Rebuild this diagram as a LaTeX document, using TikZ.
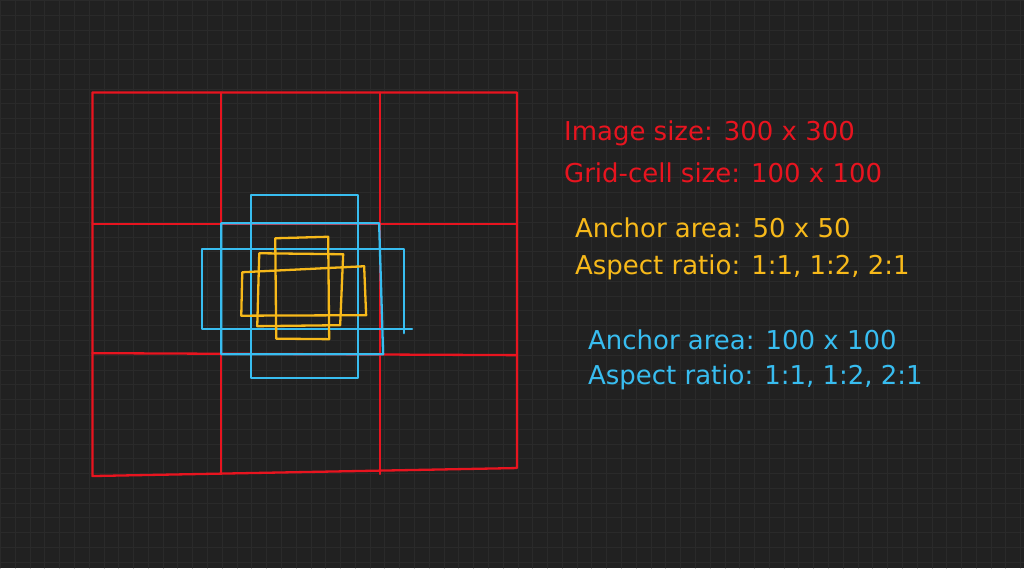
\documentclass[tikz,border=0pt]{standalone}
\usepackage{fontspec}
\setmainfont{DejaVu Sans}
\definecolor{bgdark}{HTML}{212121}
\definecolor{gridline}{HTML}{2A2A2A}
\definecolor{cellred}{HTML}{E8141F}
\definecolor{anchorblue}{HTML}{38BDF0}
\definecolor{anchoryellow}{HTML}{F7B91A}

\begin{document}
\begin{tikzpicture}[
                x=1pt,y=-1pt,
                line join=round,line cap=round,
                redline/.style={draw=cellred,line width=2.3pt},
                blueline/.style={draw=anchorblue,line width=2.3pt},
                yellowline/.style={draw=anchoryellow,line width=2.3pt},
                every node/.style={anchor=west,inner sep=0pt,font=\fontsize{26}{30}\selectfont}
            ]

            \fill[bgdark] (0,0) rectangle (1024,568);
            \foreach \gx in {0,14.8,...,1024} {\draw[gridline,line width=1pt] (\gx,0) -- (\gx,568);}
            \foreach \gy in {0,14.8,...,568} {\draw[gridline,line width=1pt] (0,\gy) -- (1024,\gy);}

            % image split into 3 x 3 grid cells
            \draw[redline] (92,92) -- (517,92) -- (517,468) -- (92,476) -- cycle;
            \draw[redline] (221,92) -- (221,474);
            \draw[redline] (380,92) -- (380,474);
            \draw[redline] (92,224) -- (517,224);
            \draw[redline] (92,353) -- (517,355);

            % large anchors
            \draw[blueline] (251,195) rectangle (358,378);
            \draw[blueline] (221,223) -- (379,223) -- (383,354) -- (221,354) -- cycle;
            \draw[blueline] (412,329) -- (202,329) -- (202,249) -- (404,249) -- (404,333);

            % small anchors
            \draw[yellowline] (275,238) -- (328,236.5) -- (329,339) -- (276,338.5) -- cycle;
            \draw[yellowline] (259,253) -- (343,254) -- (340,325) -- (257,326) -- cycle;
            \draw[yellowline] (242,272) -- (364,266) -- (366,315) -- (241,315.5) -- cycle;

            \node[text=cellred] (imgsize) at (564,133) {Image size: 300 x 300};
            \node[text=cellred] (cellsize) at (564,172) {Grid-cell size: 100 x 100};
            \node[text=anchoryellow] (smallarea) at (575,228) {Anchor area: 50 x 50};
            \node[text=anchoryellow] (smallratio) at (575,267) {Aspect ratio: 1:1, 1:2, 2:1};
            \node[text=anchorblue] (largearea) at (588,340) {Anchor area: 100 x 100};
            \node[text=anchorblue] (largeratio) at (588,377) {Aspect ratio: 1:1, 1:2, 2:1};

        \end{tikzpicture}
\end{document}
